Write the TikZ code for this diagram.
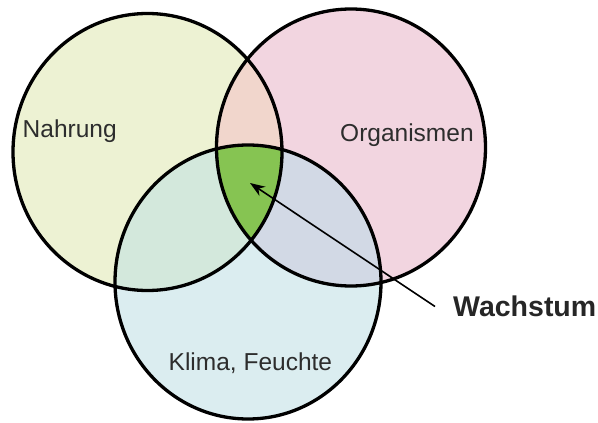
\documentclass[tikz,border=0pt]{standalone}
\usepackage{fontspec}
\setmainfont{Liberation Sans}
\usetikzlibrary{arrows.meta}
\definecolor{cL}{RGB}{237,242,211}
\definecolor{cR}{RGB}{242,213,224}
\definecolor{cB}{RGB}{219,237,240}
\definecolor{cLR}{RGB}{241,214,204}
\definecolor{cLB}{RGB}{211,232,220}
\definecolor{cRB}{RGB}{210,217,229}
\definecolor{cC}{RGB}{134,196,82}
\definecolor{txt}{RGB}{45,45,45}
\tikzset{
  ring/.style={draw=black, line width=3.3pt},
  lbl/.style={anchor=base west, inner sep=0pt, text=txt, font=\fontsize{24.5}{29}\selectfont},
  biglbl/.style={anchor=base west, inner sep=0pt, text=black!85, font=\fontsize{28.5}{34}\selectfont\bfseries},
  pointer/.style={draw=black, line width=1.6pt, -{Stealth[length=15pt,width=11pt]}}
}
\begin{document}
\begin{tikzpicture}[x=1pt,y=-1pt]
\useasboundingbox (0,0) rectangle (598,423);
% base fills
\fill[cL] (147.5,152) ellipse [x radius=134.5pt, y radius=138.5pt];
\fill[cR] (351,147.5) ellipse [x radius=134.5pt, y radius=138.5pt];
\fill[cB] (248,282) ellipse [x radius=133pt, y radius=137pt];
% pairwise intersections
\begin{scope}
  \clip (147.5,152) ellipse [x radius=134.5pt, y radius=138.5pt];
  \fill[cLR] (351,147.5) ellipse [x radius=134.5pt, y radius=138.5pt];
  \fill[cLB] (248,282) ellipse [x radius=133pt, y radius=137pt];
\end{scope}
\begin{scope}
  \clip (351,147.5) ellipse [x radius=134.5pt, y radius=138.5pt];
  \fill[cRB] (248,282) ellipse [x radius=133pt, y radius=137pt];
\end{scope}
% triple intersection
\begin{scope}
  \clip (147.5,152) ellipse [x radius=134.5pt, y radius=138.5pt];
  \clip (351,147.5) ellipse [x radius=134.5pt, y radius=138.5pt];
  \fill[cC] (248,282) ellipse [x radius=133pt, y radius=137pt];
\end{scope}
% outlines
\draw[ring] (147.5,152) ellipse [x radius=134.5pt, y radius=138.5pt];
\draw[ring] (351,147.5) ellipse [x radius=134.5pt, y radius=138.5pt];
\draw[ring] (248,282) ellipse [x radius=133pt, y radius=137pt];
% labels
\node[lbl] (nahrung) at (22.5,137) {Nahrung};
\node[lbl] (organismen) at (340,141.5) {Organismen};
\node[lbl] (klima) at (168.5,370) {Klima, Feuchte};
\node[biglbl] (wachstum) at (453,316.5) {Wachstum};
% pointer
\coordinate (from) at (435,306.5);
\coordinate (tip) at (250,183);
\draw[pointer] (from) -- (tip);
\end{tikzpicture}
\end{document}
